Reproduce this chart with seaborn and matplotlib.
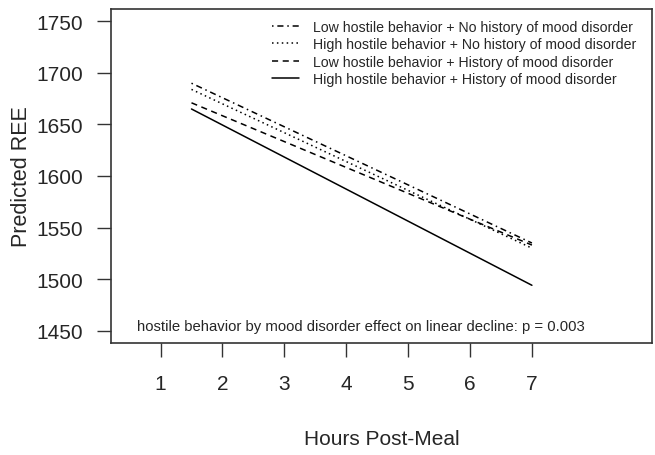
import pandas as pd
import seaborn as sns
import matplotlib
matplotlib.use("Agg")
import matplotlib.pyplot as plt

# predicted REE at start and end of the fitted lines
hours = [1.5, 7]
groups = ['Low hostile behavior + No history of mood disorder',
          'High hostile behavior + No history of mood disorder',
          'Low hostile behavior + History of mood disorder',
          'High hostile behavior + History of mood disorder']
low_no_hist = [1690, 1535]
high_no_hist = [1684, 1530]
low_hist = [1671, 1533]
high_hist = [1665, 1494]

xticks = [1, 2, 3, 4, 5, 6, 7]
yticks = [1450, 1500, 1550, 1600, 1650, 1700, 1750]

rows = []
for g, vals in zip(groups, [low_no_hist, high_no_hist, low_hist, high_hist]):
    for h, v in zip(hours, vals):
        rows.append({'Hours': h, 'REE': v, 'Group': g})
df = pd.DataFrame(rows)

sns.set_style("ticks")
plt.rcParams['font.family'] = ['Liberation Sans', 'DejaVu Sans']

fig = plt.figure(figsize=(6.55, 4.56), dpi=100)
ax = fig.add_axes([0.1695, 0.2456, 0.8259, 0.7325])

dash_map = {groups[0]: (1, 2.5, 4, 2.5),
            groups[1]: (1, 2.2),
            groups[2]: (4, 3),
            groups[3]: ""}
sns.lineplot(data=df, x='Hours', y='REE', hue='Group', style='Group',
             palette=['black'] * 4, dashes=dash_map, linewidth=1.1, ax=ax)

ax.set_xlim(0.2, 8.94)
ax.set_ylim(1438, 1762)
ax.set_xticks(xticks)
ax.set_yticks(yticks)
ax.tick_params(axis='both', direction='out', length=10, width=1.0,
               color='#333333', labelsize=15)
ax.tick_params(axis='x', pad=12)
ax.tick_params(axis='y', pad=10)
for s in ax.spines.values():
    s.set_visible(True)
    s.set_linewidth(1.2)
    s.set_color('#333333')

ax.set_xlabel('Hours Post-Meal', fontsize=15, labelpad=26)
ax.set_ylabel('Predicted REE', fontsize=15.5, labelpad=3)

handles, labels = ax.get_legend_handles_labels()
ax.legend(handles, labels, loc='upper right', frameon=False, fontsize=10.2,
          handlelength=1.9, labelspacing=0.22, handletextpad=1.0,
          borderaxespad=0.4, bbox_to_anchor=(0.992, 1.0))

ax.text(0.462, 0.05, 'hostile behavior by mood disorder effect on linear decline: p = 0.003',
        transform=ax.transAxes, ha='center', va='center', fontsize=10.7)

fig.savefig('out.png', dpi=100)
